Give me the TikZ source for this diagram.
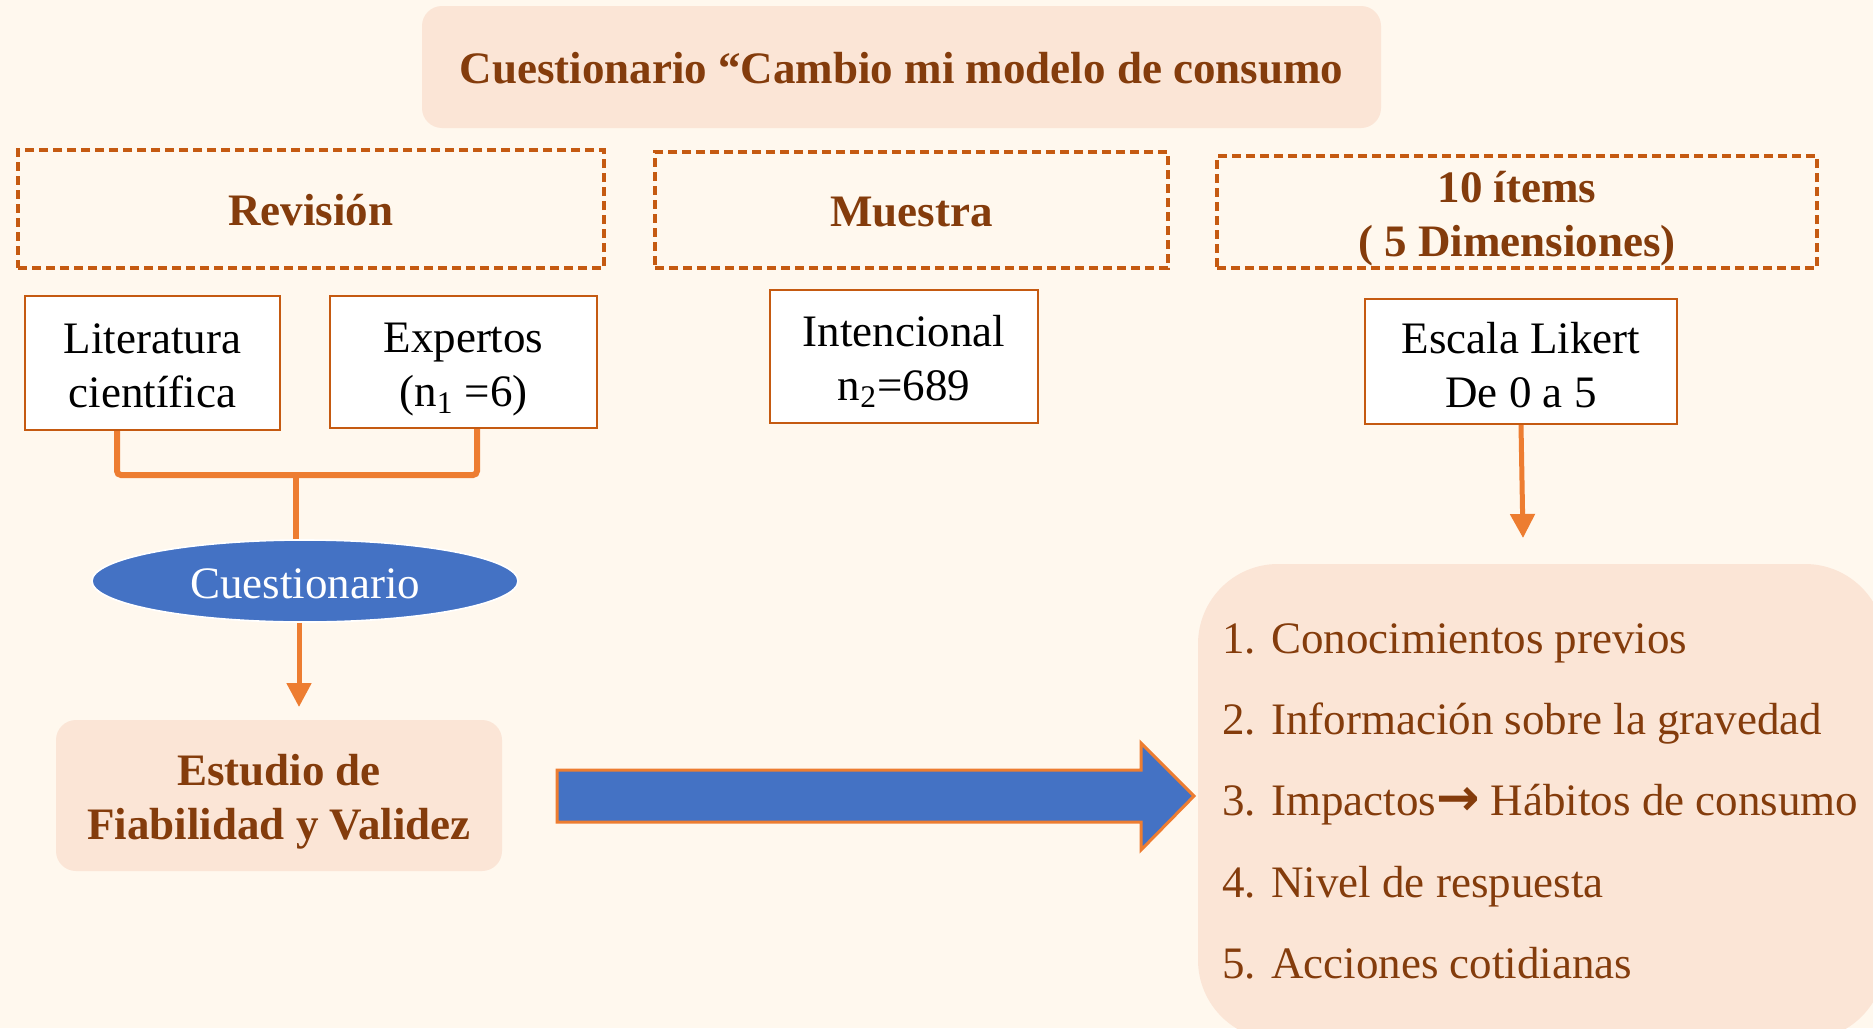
\documentclass[tikz,border=0pt]{standalone}
\usepackage{fontspec}
\setmainfont{Liberation Serif}
\newfontfamily\dejavu{DejaVu Sans}
\usetikzlibrary{arrows.meta,shapes.geometric}
\definecolor{bg}{HTML}{FFF8EE}
\definecolor{peach}{HTML}{FBE5D6}
\definecolor{brown}{HTML}{843C0C}
\definecolor{dorange}{HTML}{C55A11}
\definecolor{orange}{HTML}{ED7D31}
\definecolor{blue}{HTML}{4472C4}
\begin{document}
\begin{tikzpicture}[x=0.5pt,y=-0.5pt,
  txt/.style={font=\fontsize{22.5pt}{27pt}\selectfont,align=center,inner sep=0pt},
  bt/.style={font=\fontsize{22.5pt}{27pt}\selectfont\bfseries,text=brown,align=center,inner sep=0pt},
  peachbox/.style={fill=peach,draw=none,rounded corners=10pt},
  dashbox/.style={draw=dorange,line width=2pt,dash pattern=on 4.5pt off 2.5pt},
  whitebox/.style={draw=dorange,line width=1.2pt,fill=white},
  bracket/.style={draw=orange,line width=3pt,rounded corners=2pt},
  arr/.style={draw=orange,line width=2.5pt,-{Triangle[width=12pt,length=12pt]}},
  item/.style={font=\fontsize{22.5pt}{27pt}\selectfont,text=brown,anchor=base west,inner sep=0pt}]
\fill[bg] (0,0) rectangle (1873,1028);
\useasboundingbox (0,0) rectangle (1873,1028);
% title
\node[peachbox,minimum width=479.5pt,minimum height=61pt] (title) at (901.5,67) {};
\node[bt] (titleT) at ([yshift=-0.5pt]title.center) {Cuestionario “Cambio mi modelo de consumo};
% dashed headers
\node[dashbox,minimum width=293pt,minimum height=59pt] (rev) at (311,209) {};
\node[bt] (revT) at ([yshift=-0.5pt]rev.center) {Revisión};
\node[dashbox,minimum width=256.5pt,minimum height=58pt] (mue) at (911.5,210) {};
\node[bt] (mueT) at ([yshift=-1pt]mue.center) {Muestra};
\node[dashbox,minimum width=300pt,minimum height=56pt] (items) at (1517,212) {};
\node[bt] (itemsT) at ([yshift=-3.5pt]items.center) {10 ítems\\( 5 Dimensiones)};
% white boxes
\node[whitebox,minimum width=127.5pt,minimum height=67pt] (lit) at (152.5,363) {};
\node[txt] (litT) at ([yshift=-1.2pt]lit.center) {Literatura\\científica};
\node[whitebox,minimum width=133.5pt,minimum height=66pt] (exp) at (463.5,362) {};
\node[txt] (expT) at ([yshift=-4pt]exp.center) {Expertos\\(n\textsubscript{1} =6)};
\node[whitebox,minimum width=134pt,minimum height=66.5pt] (int) at (904,356.5) {};
\node[txt] (intT) at ([yshift=-2.5pt]int.center) {Intencional\\n\textsubscript{2}=689};
\node[whitebox,minimum width=156pt,minimum height=62.5pt] (esc) at (1521,361.5) {};
\node[txt] (escT) at ([yshift=-1.8pt]esc.center) {Escala Likert\\De 0 a 5};
% ellipse
\node[ellipse,fill=blue,draw=white,line width=0.8pt,inner sep=0pt,minimum width=213pt,minimum height=41pt] (cue) at (305,581) {};
\node[txt,text=white] (cueT) at ([yshift=-1.2pt]cue.center) {Cuestionario};
% study box
\node[peachbox,minimum width=223pt,minimum height=75.5pt] (est) at (279,795.5) {};
\node[bt] (estT) at ([yshift=-3pt]est.center) {Estudio de\\Fiabilidad y Validez};
% right list box
\node[fill=peach,draw=none,rounded corners=40pt,minimum width=343.5pt,minimum height=238pt] (list) at (1541.5,802) {};
\node[item] (i1) at (1222,653) {1. Conocimientos previos};
\node[item] (i2) at (1222,734) {2. Información sobre la gravedad};
\node[item] (i3) at (1222,815) {3. Impactos{\dejavu\bfseries\fontsize{26pt}{27pt}\selectfont →} Hábitos de consumo};
\node[item] (i4) at (1222,897) {4. Nivel de respuesta};
\node[item] (i5) at (1222,978) {5. Acciones cotidianas};
% bracket
\coordinate (bl) at (117,475);
\coordinate (br) at (477,475);
\coordinate (bm) at (296,475);
\draw[bracket] (lit.south -| bl) -- (bl) -- (br) -- (exp.south -| br);
\draw[draw=orange,line width=3pt] (bm) -- (cue.north -| bm);
% arrows
\coordinate (c1) at (299,707);
\draw[arr] (cue.south -| c1) -- (c1);
\coordinate (c2) at (1523,538);
\draw[arr] (esc.south) -- (c2);
% big arrow
\draw[fill=blue,draw=orange,line width=1.5pt,line join=miter]
  (557,770) -- (1141,770) -- (1141,743) -- (1194,796) -- (1141,850) -- (1141,822) -- (557,822) -- cycle;
\end{tikzpicture}
\end{document}
